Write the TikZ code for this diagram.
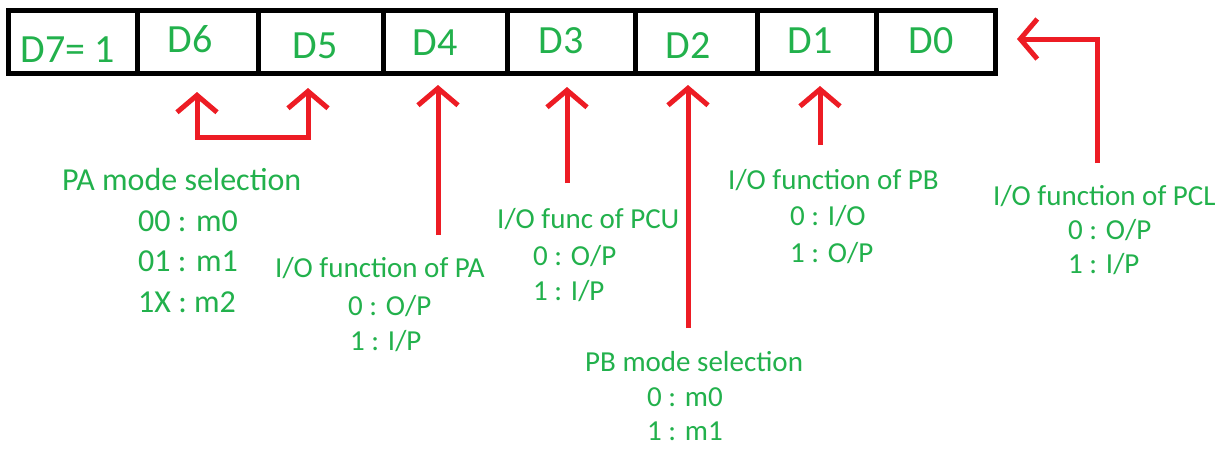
\documentclass[tikz,border=0pt]{standalone}
\usepackage{fontspec}
\setmainfont{Carlito}
\usetikzlibrary{arrows.meta}
\definecolor{tgreen}{RGB}{34,177,76}
\definecolor{ared}{RGB}{237,28,36}
\begin{document}
\begin{tikzpicture}[x=1pt,y=-1pt,
  box/.style={draw=black, line width=5pt, inner sep=0pt, minimum height=63pt},
  bitlab/.style={text=tgreen, font=\fontsize{40}{48}\selectfont, anchor=base, inner sep=0pt},
  lab/.style={text=tgreen, font=\fontsize{29}{35}\selectfont, anchor=base west, inner sep=0pt},
  biglab/.style={text=tgreen, font=\fontsize{32}{38}\selectfont, anchor=base west, inner sep=0pt},
  redline/.style={draw=ared, line width=5pt},
  conn/.style={redline, -{Straight Barb[length=17pt,width=40pt]}},
  bothconn/.style={redline, line join=miter, {Straight Barb[length=17pt,width=40pt]}-{Straight Barb[length=17pt,width=40pt]}}]
\fill[white] (0,0) rectangle (1226,448);
\useasboundingbox (0,0) rectangle (1226,448);
% register boxes
\node[box, minimum width=129pt] (b7) at (72.5,41.5) {};
\node[box, minimum width=121pt] (b6) at (197.5,41.5) {};
\node[box, minimum width=125pt] (b5) at (320.5,41.5) {};
\node[box, minimum width=124pt] (b4) at (445,41.5) {};
\node[box, minimum width=128pt] (b3) at (571,41.5) {};
\node[box, minimum width=122pt] (b2) at (696,41.5) {};
\node[box, minimum width=119pt] (b1) at (816.5,41.5) {};
\node[box, minimum width=119pt] (b0) at (935.5,41.5) {};
% bit names
\node[bitlab] (t7) at (67.5,62) {D7= 1};
\node[bitlab] (t6) at (190,52) {D6};
\node[bitlab] (t5) at (315,58) {D5};
\node[bitlab] (t4) at (435,55) {D4};
\node[bitlab] (t3) at (561,53) {D3};
\node[bitlab] (t2) at (688,58) {D2};
\node[bitlab] (t1) at (810,53) {D1};
\node[bitlab] (t0) at (931,53) {D0};
% labels
\node[biglab] (pa) at (62,190) {PA mode selection};
\node[biglab] (pa0) at (138,231) {00 : m0};
\node[biglab] (pa1) at (138,271) {01 : m1};
\node[biglab] (pa2) at (138,312) {1X : m2};
\node[lab] (pio) at (275,277) {I/O function of PA};
\node[lab] (pio0) at (348,315) {0 : O/P};
\node[lab] (pio1) at (350,350) {1 : I/P};
\node[lab] (pcu) at (497,228) {I/O func of PCU};
\node[lab] (pcu0) at (533,265) {0 : O/P};
\node[lab] (pcu1) at (533,300) {1 : I/P};
\node[lab] (pb) at (728,189) {I/O function of PB};
\node[lab] (pb0) at (790,225) {0 : I/O};
\node[lab] (pb1) at (790,262) {1 : O/P};
\node[lab] (pbm) at (585,371) {PB mode selection};
\node[lab] (pbm0) at (647,406) {0 : m0};
\node[lab] (pbm1) at (647,440) {1 : m1};
\node[lab] (pcl) at (993,205) {I/O function of PCL};
\node[lab] (pcl0) at (1068,239) {0 : O/P};
\node[lab] (pcl1) at (1068,273) {1 : I/P};
% connectors
\coordinate (c6) at (197,137);
\coordinate (c5) at (308,137);
\draw[bothconn] ([yshift=-16.5pt]b6.south -| c6) -- (c6) -- (c5) -- ([yshift=-12.5pt]b5.south -| c5);
\coordinate (e4) at (438,235);
\draw[conn] (e4) -- ([yshift=-9.5pt]b4.south -| e4);
\coordinate (e3) at (567,183);
\draw[conn] (e3) -- ([yshift=-11.5pt]b3.south -| e3);
\coordinate (e2) at (688,328);
\draw[conn] (e2) -- ([yshift=-9.5pt]b2.south -| e2);
\coordinate (e1) at (820,145);
\draw[conn] (e1) -- ([yshift=-10.5pt]b1.south -| e1);
\coordinate (e0) at (1097,163);
\coordinate (k0) at (1097,39);
\draw[conn, line join=miter] (e0) -- (k0) -- ([xshift=19.5pt]b0.east |- k0);
\end{tikzpicture}
\end{document}
